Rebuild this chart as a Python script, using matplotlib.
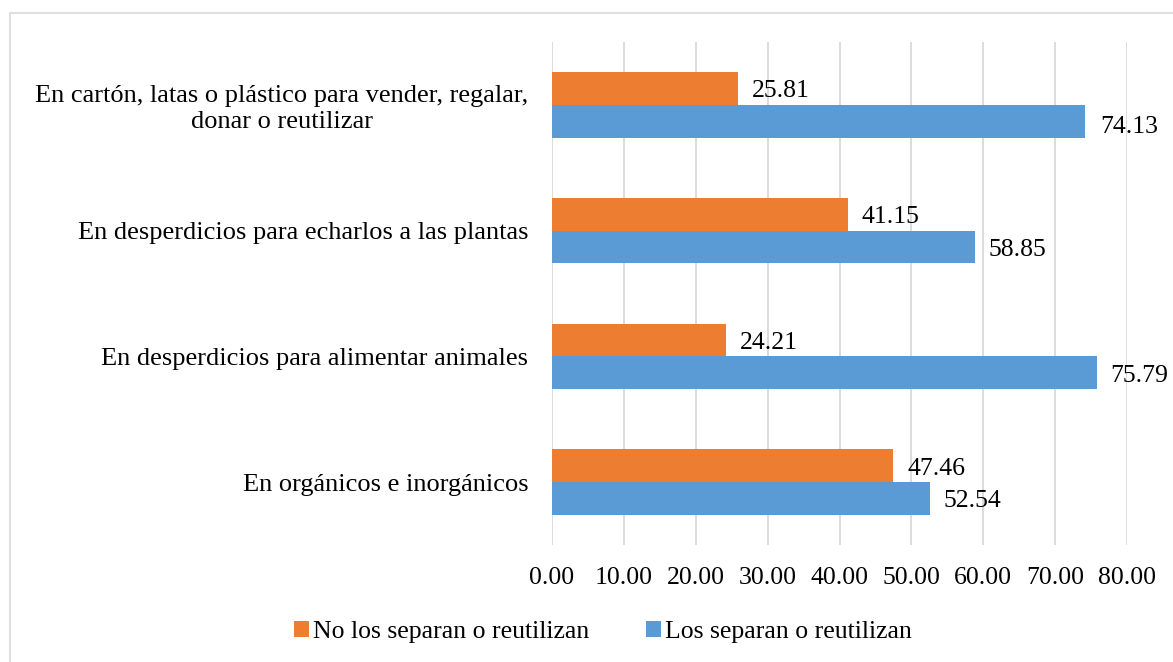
import matplotlib.pyplot as plt
import numpy as np
from matplotlib.patches import Rectangle

plt.rcParams['font.family'] = ['Liberation Serif', 'DejaVu Serif']

categorias = [
    "En cartón, latas o plástico para vender, regalar,\ndonar o reutilizar",
    "En desperdicios para echarlos a las plantas",
    "En desperdicios para alimentar animales",
    "En orgánicos e inorgánicos",
]
no_separan = [25.81, 41.15, 24.21, 47.46]
separan = [74.13, 58.85, 75.79, 52.54]
xticks = [0, 10, 20, 30, 40, 50, 60, 70, 80]

naranja = "#ED7D31"
azul = "#5B9BD5"
fs = 18.5

fig = plt.figure(figsize=(11.73, 6.62), dpi=100)
ax = fig.add_axes([552 / 1173, 1 - 545 / 662, 575 / 1173, 503 / 662])

y = np.arange(len(categorias))
h = 0.26
b1 = ax.barh(y - h / 2, no_separan, height=h, color=naranja, zorder=3,
             label="No los separan o reutilizan")
b2 = ax.barh(y + h / 2, separan, height=h, color=azul, zorder=3,
             label="Los separan o reutilizan")

# etiquetas de valores
for rect, v in zip(b1, no_separan):
    ax.annotate(f"{v:.2f}", (v, rect.get_y() + rect.get_height() / 2),
                xytext=(10, -2), textcoords="offset points",
                va="center", ha="left", fontsize=fs)
for i, (rect, v) in enumerate(zip(b2, separan)):
    off = (11, -4) if i == 0 else (10, -2)
    ax.annotate(f"{v:.2f}", (v, rect.get_y() + rect.get_height() / 2),
                xytext=off, textcoords="offset points",
                va="center", ha="left", fontsize=fs)

ax.set_xlim(0, 80)
ax.set_ylim(3.5, -0.5)
ax.set_xticks(xticks)
ax.set_xticklabels([f"{t:.2f}" for t in xticks], fontsize=fs)
ax.set_yticks(y)
ax.set_yticklabels(categorias, fontsize=19)
for lbl in ax.get_yticklabels():
    lbl.set_multialignment("center")
ax.tick_params(axis="both", length=0)
ax.tick_params(axis="y", pad=17)
ax.tick_params(axis="x", pad=16)
ax.grid(axis="x", color="#D9D9D9", linewidth=1.3, zorder=0)
for s in ax.spines.values():
    s.set_visible(False)

fig.legend(handles=[b1, b2], loc="center", bbox_to_anchor=(603 / 1173, 1 - 632 / 662),
           ncol=2, frameon=False, fontsize=fs, handlelength=0.6, handleheight=0.6,
           handletextpad=0.15, columnspacing=2.2)

fig.patches.append(Rectangle((10 / 1173, -0.05), 1.1, 1 - 13 / 662 + 0.05,
                             transform=fig.transFigure, fill=False,
                             edgecolor="#D9D9D9", linewidth=1.2))

fig.savefig("out.png", dpi=100)
